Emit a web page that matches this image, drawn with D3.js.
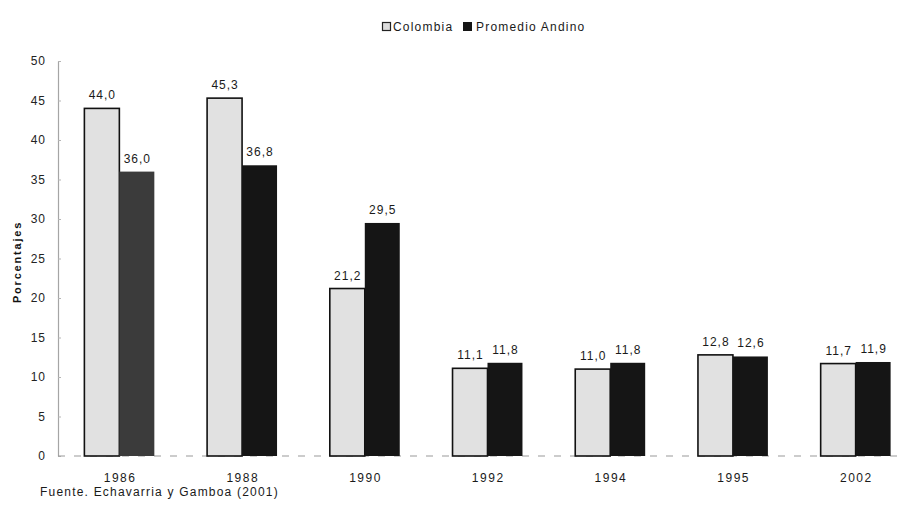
<!DOCTYPE html>
<html>
<head>
<meta charset="utf-8">
<script src="https://cdn.jsdelivr.net/npm/d3@7"></script>
<style>
  html, body { margin: 0; padding: 0; background: #ffffff; }
  svg { display: block; font-family: Arial, "Liberation Sans", sans-serif; }
</style>
</head>
<body>
<svg id="chart" width="898" height="505"></svg>
<script>
// Tasa arancelaria promedio: Colombia frente al promedio andino
const years = ["1986", "1988", "1990", "1992", "1994", "1995", "2002"];
const colombia = [44.0, 45.3, 21.2, 11.1, 11.0, 12.8, 11.7];
const promedioAndino = [36.0, 36.8, 29.5, 11.8, 11.8, 12.6, 11.9];
const seriesNames = ["Colombia", "Promedio Andino"];
const yTicks = [0, 5, 10, 15, 20, 25, 30, 35, 40, 45, 50];

const svg = d3.select("#chart");
const fmt = v => v.toFixed(1).replace(".", ",");

const x = d3.scaleBand()
  .domain(years)
  .range([58, 917])
  .paddingInner(0.43)
  .paddingOuter(0.215);

const xSeries = d3.scaleBand()
  .domain(seriesNames)
  .range([0, x.bandwidth()])
  .padding(0);

const y = d3.scaleLinear().domain([0, 50]).range([456, 61]);

// Eje vertical
const yAxis = d3.axisLeft(y).tickValues(yTicks).tickSize(0).tickPadding(12)
  .tickFormat(d3.format("d"));
const gy = svg.append("g").attr("transform", "translate(58,0)").call(yAxis);
gy.select(".domain").attr("stroke", "#a5a5a5").attr("stroke-width", 1.2);
gy.selectAll("text")
  .attr("font-size", 12)
  .attr("fill", "#222")
  .style("letter-spacing", "1px");
gy.selectAll(".tick").append("line")
  .attr("x1", 0).attr("x2", 3)
  .attr("stroke", "#b5b5b5");

// Línea base discontinua
svg.append("line")
  .attr("x1", 58).attr("x2", 898)
  .attr("y1", y(0)).attr("y2", y(0))
  .attr("stroke", "#999")
  .attr("stroke-width", 1)
  .attr("stroke-dasharray", "7,9");

const rows = years.map((yr, i) => ({
  year: yr,
  values: [
    { key: seriesNames[0], value: colombia[i] },
    { key: seriesNames[1], value: promedioAndino[i] }
  ]
}));

const groups = svg.append("g").selectAll("g")
  .data(rows)
  .join("g")
  .attr("transform", d => `translate(${x(d.year)},0)`);

groups.selectAll("rect")
  .data((d, i) => d.values.map(v => ({ ...v, idx: i })))
  .join("rect")
  .attr("x", d => xSeries(d.key))
  .attr("width", xSeries.bandwidth())
  .attr("y", d => y(d.value))
  .attr("height", d => y(0) - y(d.value))
  .attr("fill", d => d.key === "Colombia" ? "#e1e1e1" : (d.idx === 0 ? "#3b3b3b" : "#151515"))
  .attr("stroke", d => d.key === "Colombia" ? "#111" : "none")
  .attr("stroke-width", 1.6);

// Etiquetas de valor
groups.selectAll("text.val")
  .data(d => d.values)
  .join("text")
  .attr("class", "val")
  .attr("x", d => xSeries(d.key) + xSeries.bandwidth() / 2 + 0.5)
  .attr("y", d => y(d.value) - 9)
  .attr("text-anchor", "middle")
  .attr("font-size", 12)
  .attr("fill", "#1a1a1a")
  .style("letter-spacing", "1px")
  .text(d => fmt(d.value));

// Etiquetas de años
const xAxis = d3.axisBottom(x).tickSize(0).tickPadding(0);
const gx = svg.append("g").attr("transform", "translate(0,473)").call(xAxis);
gx.select(".domain").remove();
gx.selectAll("text")
  .attr("font-size", 12)
  .attr("fill", "#1a1a1a")
  .attr("dy", "0.71em")
  .attr("dx", "0.7")
  .style("letter-spacing", "1.5px");

// Título del eje
svg.append("text")
  .attr("transform", "translate(21,262) rotate(-90)")
  .attr("text-anchor", "middle")
  .attr("font-size", 11)
  .attr("font-weight", "bold")
  .attr("fill", "#111")
  .style("letter-spacing", "1.8px")
  .text("Porcentajes");

// Leyenda
const legend = svg.append("g");
legend.append("rect").attr("x", 382.5).attr("y", 22.5).attr("width", 8).attr("height", 8)
  .attr("fill", "#dcdcdc").attr("stroke", "#222").attr("stroke-width", 1.2);
legend.append("text").attr("x", 393).attr("y", 31).attr("font-size", 12)
  .attr("fill", "#1a1a1a").style("letter-spacing", "1.2px").text(seriesNames[0]);
legend.append("rect").attr("x", 463).attr("y", 22).attr("width", 9).attr("height", 9)
  .attr("fill", "#151515");
legend.append("text").attr("x", 476).attr("y", 31).attr("font-size", 12)
  .attr("fill", "#1a1a1a").style("letter-spacing", "1.2px").text(seriesNames[1]);

// Fuente
svg.append("text")
  .attr("x", 40).attr("y", 496)
  .attr("font-size", 12)
  .attr("fill", "#1a1a1a")
  .style("letter-spacing", "1.2px")
  .text("Fuente. Echavarria y Gamboa (2001)");
</script>
</body>
</html>
